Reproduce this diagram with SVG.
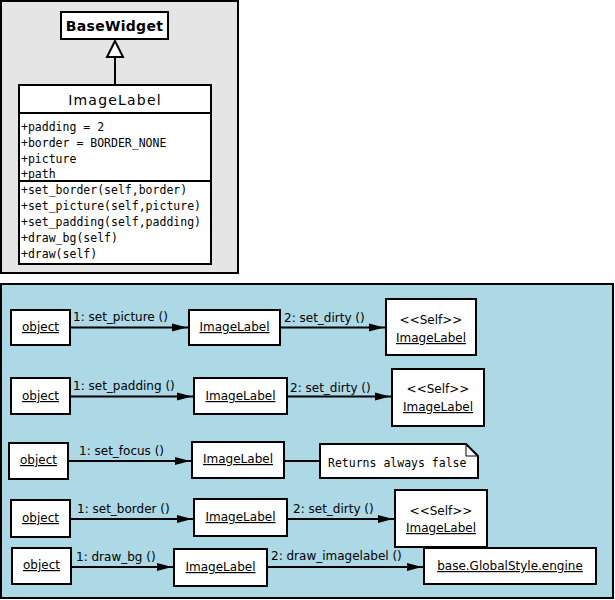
<svg xmlns="http://www.w3.org/2000/svg" width="615" height="600" viewBox="0 0 615 600">
<style>
.box{fill:#fff;stroke:#000;stroke-width:2}
.lbl{font-family:"DejaVu Sans",sans-serif;font-size:12px;fill:#000}
.u{text-decoration:underline}
.mono{font-family:"DejaVu Sans Mono",monospace;font-size:11.5px;fill:#000}
.conn{stroke:#000;stroke-width:2;fill:none}
</style>
<defs>
<marker id="arr" markerUnits="userSpaceOnUse" markerWidth="17" markerHeight="9" viewBox="0 0 17 9" refX="17" refY="4.5" orient="auto">
<path d="M0,0.5 L15,4.5 L0,8.5 Z" fill="#000"/>
</marker>
</defs>
<rect x="1" y="1" width="237" height="272" fill="#e5e5e5" stroke="#000" stroke-width="2"/>
<rect x="1" y="284" width="612" height="314" fill="#add8e6" stroke="#000" stroke-width="2"/>
<g id="connectors">
<line class="conn" x1="115" y1="57" x2="115" y2="85"/>
<polygon points="115,41 107,57 123,57" fill="#fff" stroke="#000" stroke-width="2"/>
<line class="conn" x1="70" y1="327.5" x2="189" y2="327.5" marker-end="url(#arr)"/>
<text class="lbl" x="73" y="321">1: set_picture ()</text>
<line class="conn" x1="280" y1="327.5" x2="386" y2="327.5" marker-end="url(#arr)"/>
<text class="lbl" x="284" y="322">2: set_dirty ()</text>
<line class="conn" x1="70" y1="396.5" x2="194" y2="396.5" marker-end="url(#arr)"/>
<text class="lbl" x="73" y="390">1: set_padding ()</text>
<line class="conn" x1="287" y1="396.5" x2="392" y2="396.5" marker-end="url(#arr)"/>
<text class="lbl" x="290" y="392">2: set_dirty ()</text>
<line class="conn" x1="68" y1="461" x2="192" y2="461" marker-end="url(#arr)"/>
<text class="lbl" x="79" y="455">1: set_focus ()</text>
<line class="conn" x1="284" y1="461" x2="320" y2="461"/>
<line class="conn" x1="70" y1="519" x2="194" y2="519" marker-end="url(#arr)"/>
<text class="lbl" x="77" y="513">1: set_border ()</text>
<line class="conn" x1="287" y1="519" x2="395" y2="519" marker-end="url(#arr)"/>
<text class="lbl" x="293" y="513">2: set_dirty ()</text>
<line class="conn" x1="71" y1="567" x2="174" y2="567" marker-end="url(#arr)"/>
<text class="lbl" x="76" y="561">1: draw_bg ()</text>
<line class="conn" x1="267" y1="567" x2="424" y2="567" marker-end="url(#arr)"/>
<text class="lbl" x="271" y="560">2: draw_imagelabel ()</text>
</g>
<g id="BaseWidget">
<rect class="box" x="61" y="12" width="107" height="27"/>
<text x="114.5" y="31" text-anchor="middle" font-family="DejaVu Sans,sans-serif" font-size="14" font-weight="bold" letter-spacing="0.3">BaseWidget</text>
</g>
<g id="ImageLabelClass">
<rect class="box" x="19" y="85" width="192" height="179"/>
<line class="conn" x1="19" y1="113" x2="211" y2="113"/>
<line class="conn" x1="19" y1="181" x2="211" y2="181"/>
<text x="115" y="105" text-anchor="middle" font-family="DejaVu Sans,sans-serif" font-size="14" letter-spacing="1.2">ImageLabel</text>
<text class="mono" x="21" y="131">+padding = 2</text>
<text class="mono" x="21" y="147">+border = BORDER_NONE</text>
<text class="mono" x="21" y="163">+picture</text>
<text class="mono" x="21" y="178">+path</text>
<text class="mono" x="21" y="194">+set_border(self,border)</text>
<text class="mono" x="21" y="210">+set_picture(self,picture)</text>
<text class="mono" x="21" y="226">+set_padding(self,padding)</text>
<text class="mono" x="21" y="242">+draw_bg(self)</text>
<text class="mono" x="21" y="258">+draw(self)</text>
</g>
<g id="object1">
<rect class="box" x="11" y="310" width="59" height="35"/>
<text class="lbl u" x="40.5" y="331" text-anchor="middle">object</text>
</g>
<g id="imagelabel1">
<rect class="box" x="189" y="310" width="91" height="35"/>
<text class="lbl u" x="234.5" y="331" text-anchor="middle">ImageLabel</text>
</g>
<g id="self1">
<rect class="box" x="386" y="299" width="90" height="56"/>
<text class="lbl" x="431" y="324" text-anchor="middle">&lt;&lt;Self&gt;&gt;</text>
<text class="lbl u" x="431" y="342" text-anchor="middle">ImageLabel</text>
</g>
<g id="object2">
<rect class="box" x="11" y="378" width="59" height="36"/>
<text class="lbl u" x="40.5" y="400" text-anchor="middle">object</text>
</g>
<g id="imagelabel2">
<rect class="box" x="194" y="378" width="93" height="36"/>
<text class="lbl u" x="240.5" y="400" text-anchor="middle">ImageLabel</text>
</g>
<g id="self2">
<rect class="box" x="392" y="369" width="92" height="57"/>
<text class="lbl" x="438" y="393" text-anchor="middle">&lt;&lt;Self&gt;&gt;</text>
<text class="lbl u" x="438" y="411" text-anchor="middle">ImageLabel</text>
</g>
<g id="object3">
<rect class="box" x="9" y="443" width="59" height="36"/>
<text class="lbl u" x="38.5" y="464" text-anchor="middle">object</text>
</g>
<g id="imagelabel3">
<rect class="box" x="192" y="442" width="92" height="36"/>
<text class="lbl u" x="238" y="463" text-anchor="middle">ImageLabel</text>
</g>
<g id="note">
<path d="M320,444 H466 L478,456 V478 H320 Z" fill="#fff" stroke="#000" stroke-width="2"/>
<path d="M466,444 V456 H478" fill="none" stroke="#000" stroke-width="1"/>
<text class="mono" x="328" y="467">Returns always false</text>
</g>
<g id="object4">
<rect class="box" x="11" y="500" width="59" height="37"/>
<text class="lbl u" x="40.5" y="522" text-anchor="middle">object</text>
</g>
<g id="imagelabel4">
<rect class="box" x="194" y="499" width="93" height="37"/>
<text class="lbl u" x="240.5" y="521" text-anchor="middle">ImageLabel</text>
</g>
<g id="self4">
<rect class="box" x="395" y="490" width="92" height="57"/>
<text class="lbl" x="441" y="515" text-anchor="middle">&lt;&lt;Self&gt;&gt;</text>
<text class="lbl u" x="441" y="532" text-anchor="middle">ImageLabel</text>
</g>
<g id="object5">
<rect class="box" x="12" y="548" width="59" height="36"/>
<text class="lbl u" x="41.5" y="569" text-anchor="middle">object</text>
</g>
<g id="imagelabel5">
<rect class="box" x="174" y="549" width="93" height="37"/>
<text class="lbl u" x="220.5" y="571" text-anchor="middle">ImageLabel</text>
</g>
<g id="engine">
<rect class="box" x="424" y="548" width="172" height="36"/>
<text class="lbl u" x="510" y="570" text-anchor="middle">base.GlobalStyle.engine</text>
</g>
</svg>
